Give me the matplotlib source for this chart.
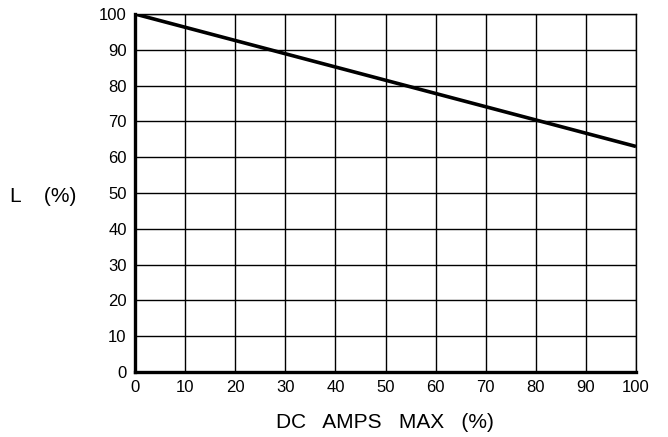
import matplotlib
matplotlib.use("Agg")
import matplotlib.pyplot as plt

# derating curve: inductance vs DC current
dc_amps = [0, 100]
inductance = [100, 63]

x_ticks = [0, 10, 20, 30, 40, 50, 60, 70, 80, 90, 100]
y_ticks = [0, 10, 20, 30, 40, 50, 60, 70, 80, 90, 100]

plt.rcParams['font.family'] = ['Liberation Sans', 'DejaVu Sans']

fig = plt.figure(figsize=(6.68, 4.37), dpi=100)
ax = fig.add_axes([135 / 668, 65 / 437, 501 / 668, 358 / 437])

ax.plot(dc_amps, inductance, color='black', lw=2.6, solid_capstyle='butt', zorder=3)

ax.set_xlim(0, 100)
ax.set_ylim(0, 100)
ax.set_xticks(x_ticks)
ax.set_yticks(y_ticks)
ax.grid(True, color='black', lw=1.0)
ax.tick_params(length=0, labelsize=12, pad=6)

ax.spines['top'].set_linewidth(1.0)
ax.spines['right'].set_linewidth(1.0)
ax.spines['left'].set_linewidth(2.4)
ax.spines['bottom'].set_linewidth(2.4)

# axis titles placed in figure pixels
fig.text(385 / 668, 1 - 422 / 437, 'DC   AMPS   MAX   (%)', fontsize=15,
         ha='center', va='center')
fig.text(10 / 668, 1 - 197 / 437, 'L    (%)', fontsize=15,
         ha='left', va='center')

fig.savefig('out.png', dpi=100)
